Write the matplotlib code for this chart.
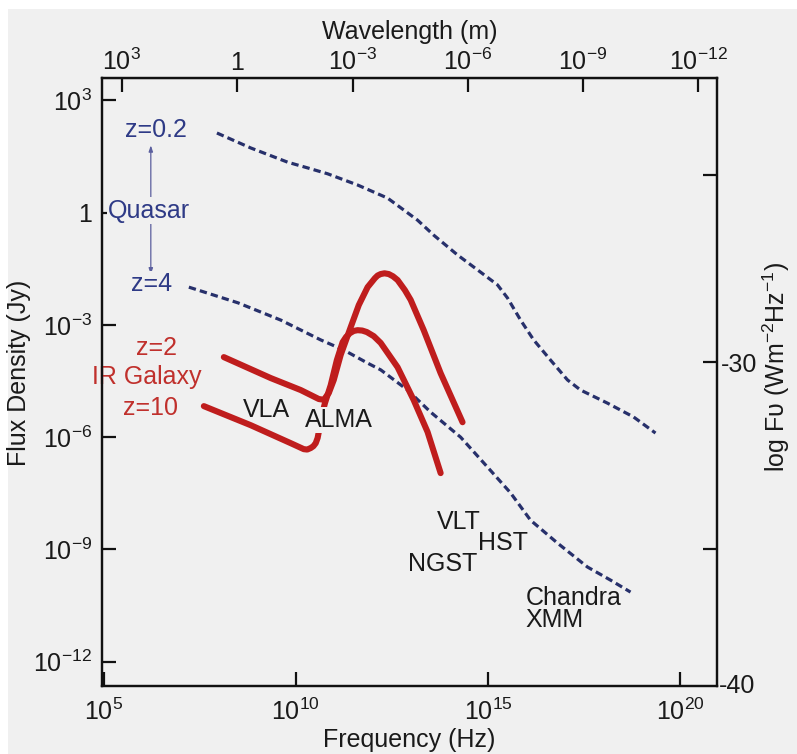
import numpy as np
import matplotlib
matplotlib.use("Agg")
import matplotlib.pyplot as plt
from matplotlib.patches import Rectangle

plt.rcParams['font.family'] = ['Liberation Sans', 'DejaVu Sans']
plt.rcParams['mathtext.fontset'] = 'custom'
plt.rcParams['mathtext.rm'] = 'Liberation Sans'
plt.rcParams['mathtext.it'] = 'Liberation Sans:italic'
plt.rcParams['mathtext.bf'] = 'Liberation Sans:bold'

# ---------------- data (log10 frequency [Hz], log10 flux density [Jy]) -------------
quasar_z02_lognu = [7.95, 8.83, 9.79, 10.30, 10.83, 11.61, 12.39, 13.17, 13.59, 14.21, 14.81,
                    15.25, 15.51, 15.85, 16.19, 16.63, 17.07, 17.41, 18.11, 18.79, 19.36]
quasar_z02_logS = [2.13, 1.73, 1.35, 1.20, 1.04, 0.74, 0.39, -0.20, -0.60, -1.13, -1.59,
                   -1.93, -2.28, -2.87, -3.40, -3.94, -4.47, -4.74, -5.09, -5.46, -5.89]

quasar_z4_lognu = [7.22, 8.50, 9.61, 10.65, 11.25, 11.87, 12.21, 12.91, 13.51, 14.29,
                   14.99, 15.59, 16.11, 16.81, 17.59, 18.19, 18.71]
quasar_z4_logS = [-1.99, -2.41, -2.87, -3.40, -3.67, -4.02, -4.20, -4.74, -5.33, -6.00,
                  -6.80, -7.49, -8.22, -8.83, -9.47, -9.82, -10.14]

irgal_z2_lognu = [8.13, 9.35, 10.13, 10.60, 10.73, 10.86, 10.99, 11.17, 11.43, 11.64,
                  11.87, 12.06, 12.13, 12.21, 12.31, 12.42, 12.53, 12.65, 12.84, 12.99,
                  13.33, 13.77, 14.34]
irgal_z2_logS = [-3.86, -4.42, -4.74, -4.98, -5.00, -4.82, -4.47, -3.80, -3.06, -2.47,
                 -1.99, -1.75, -1.68, -1.64, -1.62, -1.64, -1.70, -1.80, -2.07, -2.33,
                 -3.14, -4.29, -5.60]

irgal_z10_lognu = [7.61, 8.83, 9.87, 10.21, 10.30, 10.39, 10.46, 10.52, 10.57, 10.60,
                   10.65, 10.76, 10.91, 11.07, 11.22, 11.31, 11.41, 11.51, 11.61, 11.73,
                   11.85, 12.03, 12.21, 12.65, 13.07, 13.43, 13.77]
irgal_z10_logS = [-5.17, -5.68, -6.16, -6.32, -6.33, -6.29, -6.24, -6.16, -6.02, -5.86,
                  -5.54, -5.09, -4.61, -3.94, -3.46, -3.32, -3.22, -3.16, -3.14, -3.15,
                  -3.19, -3.30, -3.48, -4.13, -5.01, -5.86, -6.96]

freq_ticks = [1e5, 1e10, 1e15, 1e20]
freq_labels = ['$10^{5}$', '$10^{10}$', '$10^{15}$', '$10^{20}$']
flux_ticks = [1e3, 1, 1e-3, 1e-6, 1e-9, 1e-12]
flux_labels = ['$10^{3}$', '1', '$10^{-3}$', '$10^{-6}$', '$10^{-9}$', '$10^{-12}$']
wl_ticks = [1e3, 1, 1e-3, 1e-6, 1e-9, 1e-12]
wl_labels = ['$10^{3}$', '1', '$10^{-3}$', '$10^{-6}$', '$10^{-9}$', '$10^{-12}$']
logF_ticks = [-25, -30, -35]
logF_labels = ['', '-30', '']

# ---------------- styling ----------------
BG = '#f0f0f0'
NAVY = '#27306b'
QTEXT = '#2e3a86'
RED = '#bf1d1d'
RTEXT = '#c0302c'
TXT = '#1a1a1a'
FS = 18
YLO, YHI = -12.65, 3.60

fig = plt.figure(figsize=(7.97, 7.54), dpi=100)
fig.patch.set_facecolor('white')
fig.add_artist(Rectangle((8 / 797, 0), 1, 1 - 9 / 754, transform=fig.transFigure,
                         facecolor=BG, edgecolor='none', zorder=-10))

ax = fig.add_axes([102 / 797, 1 - 686 / 754, 615 / 797, 608 / 754])
ax.set_facecolor(BG)
ax.set_xscale('log')
ax.set_yscale('log')
ax.set_xlim(10 ** 4.96, 10 ** 20.96)
ax.set_ylim(10 ** YLO, 10 ** YHI)

def P(a):
    return 10.0 ** np.asarray(a)

ax.plot(P(quasar_z02_lognu), P(quasar_z02_logS), color=NAVY, lw=2.3,
        dashes=(2.3, 1.3), zorder=2)
ax.plot(P(quasar_z4_lognu), P(quasar_z4_logS), color=NAVY, lw=2.3,
        dashes=(2.3, 1.3), zorder=2)
ax.plot(P(irgal_z2_lognu), P(irgal_z2_logS), color=RED, lw=4.4,
        solid_capstyle='round', solid_joinstyle='round', zorder=3)
ax.plot(P(irgal_z10_lognu), P(irgal_z10_logS), color=RED, lw=4.4,
        solid_capstyle='round', solid_joinstyle='round', zorder=3)

# spines / ticks
for s in ax.spines.values():
    s.set_linewidth(1.6)
    s.set_color('#111111')
ax.set_xticks(freq_ticks)
ax.set_xticklabels(freq_labels, fontsize=FS, color=TXT)
ax.set_yticks(flux_ticks)
ax.set_yticklabels(flux_labels, fontsize=FS, color=TXT)
ax.minorticks_off()
ax.tick_params(axis='both', which='major', direction='in', length=10, width=1.6,
               pad=7, color='#111111')
ax.tick_params(axis='x', pad=9)

ax.set_xlabel('Frequency (Hz)', fontsize=FS, color=TXT, labelpad=2)
ax.set_ylabel('Flux Density (Jy)', fontsize=FS, color=TXT, labelpad=2)
ax.yaxis.label.set_y(0.515)

# top wavelength axis
def nu2lam(nu):
    nu = np.clip(np.asarray(nu, dtype=float), 1e-300, None)
    return 3e8 / nu

top = ax.secondary_xaxis('top', functions=(nu2lam, nu2lam))
top.set_xticks(wl_ticks)
top.set_xticklabels(wl_labels, fontsize=FS, color=TXT)
top.minorticks_off()
top.tick_params(direction='in', length=10, width=1.6, pad=2, color='#111111')
top.set_xlabel('Wavelength (m)', fontsize=FS, color=TXT, labelpad=7)

# right log F axis (log10 of W m^-2 Hz^-1 = log10 Jy - 26)
ax2 = ax.twinx()
ax2.set_ylim(YLO - 26, YHI - 26)
ax2.set_yticks(logF_ticks)
ax2.set_yticklabels(logF_labels, fontsize=FS, color=TXT)
ax2.tick_params(axis='y', direction='in', length=10, width=1.6, pad=3,
                color='#111111')
ax2.set_ylabel('log F\u03c5 (Wm$^{-2}$Hz$^{-1}$)', fontsize=FS, color=TXT,
               labelpad=2)
ax2.yaxis.label.set_y(0.525)
for s in ax2.spines.values():
    s.set_linewidth(1.6)
    s.set_color('#111111')
ax2.text(1.003, 0.0, '-40', transform=ax2.transAxes, fontsize=FS, color=TXT,
         ha='left', va='center')

# annotations
ax.annotate('', xy=(10 ** 6.23, 10 ** 1.80), xytext=(10 ** 6.23, 10 ** -1.65),
            arrowprops=dict(arrowstyle='<|-|>,head_length=0.35,head_width=0.12',
                            color='#5b5f9e', lw=0.9, shrinkA=0, shrinkB=0),
            zorder=1)
tb = dict(facecolor=BG, edgecolor='none', pad=1)
ax.text(10 ** 6.37, 10 ** 2.21, 'z=0.2', color=QTEXT, fontsize=FS, ha='center',
        va='center', zorder=4, bbox=tb)
ax.text(10 ** 5.12, 10 ** 0.05, 'Quasar', color=QTEXT, fontsize=FS, ha='left',
        va='center', zorder=4, bbox=tb)
ax.text(10 ** 6.26, 10 ** -1.91, 'z=4', color=QTEXT, fontsize=FS, ha='center',
        va='center', zorder=4, bbox=tb)
ax.text(10 ** 6.37, 10 ** -3.62, 'z=2', color=RTEXT, fontsize=FS, ha='center',
        va='center', zorder=4)
ax.text(10 ** 6.13, 10 ** -4.39, 'IR Galaxy', color=RTEXT, fontsize=FS,
        ha='center', va='center', zorder=4)
ax.text(10 ** 6.23, 10 ** -5.22, 'z=10', color=RTEXT, fontsize=FS, ha='center',
        va='center', zorder=4)
ax.text(10 ** 9.25, 10 ** -5.28, 'VLA', color=TXT, fontsize=FS, ha='center',
        va='center', zorder=4)
ax.text(10 ** 11.12, 10 ** -5.54, 'ALMA', color=TXT, fontsize=FS, ha='center',
        va='center', zorder=4, bbox=dict(facecolor=BG, edgecolor='none', pad=0.5))
ax.text(10 ** 14.24, 10 ** -8.27, 'VLT', color=TXT, fontsize=FS, ha='center',
        va='center', zorder=4)
ax.text(10 ** 15.38, 10 ** -8.83, 'HST', color=TXT, fontsize=FS, ha='center',
        va='center', zorder=4)
ax.text(10 ** 13.82, 10 ** -9.39, 'NGST', color=TXT, fontsize=FS, ha='center',
        va='center', zorder=4)
ax.text(10 ** 15.98, 10 ** -10.30, 'Chandra', color=TXT, fontsize=FS, ha='left',
        va='center', zorder=4)
ax.text(10 ** 15.98, 10 ** -10.89, 'XMM', color=TXT, fontsize=FS, ha='left',
        va='center', zorder=4)

fig.savefig('out.png', dpi=100, facecolor=fig.get_facecolor())
